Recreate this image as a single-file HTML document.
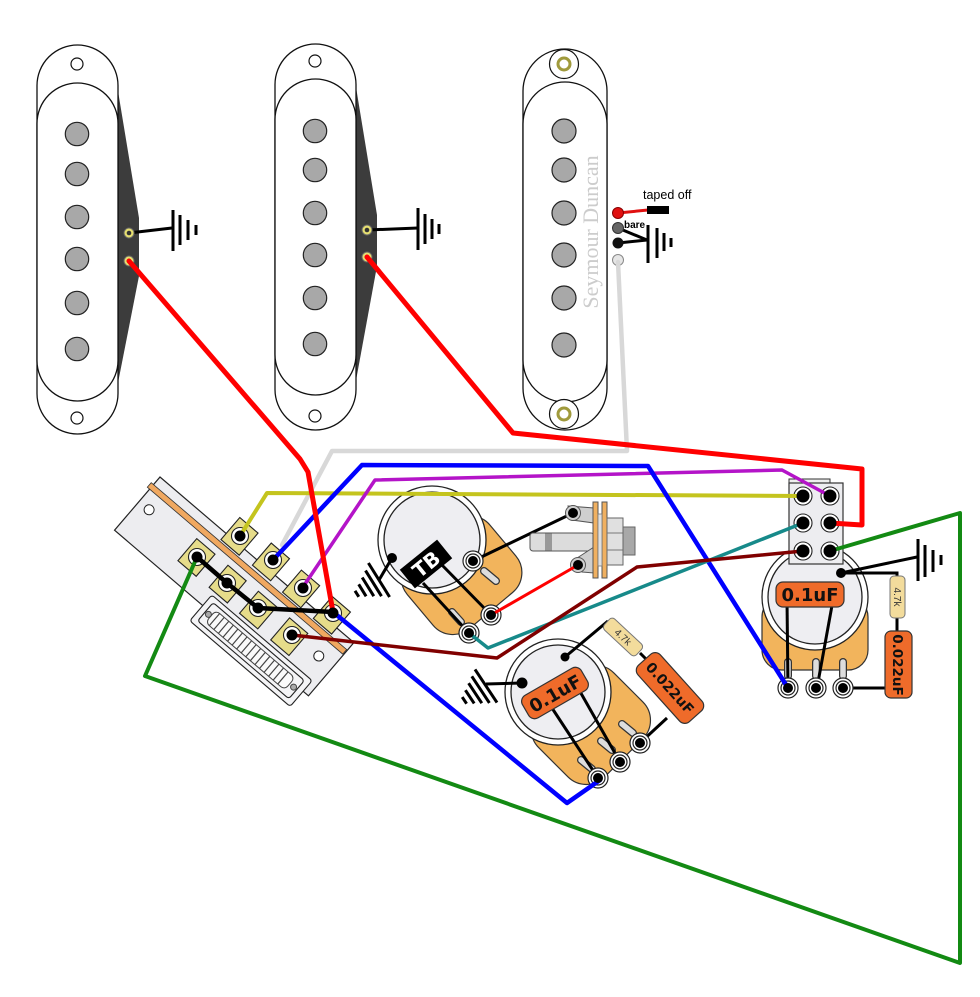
<!DOCTYPE html>
<html><head><meta charset="utf-8"><style>html,body{margin:0;padding:0;background:#fff;overflow:hidden}svg{display:block}</style></head><body>
<svg width="980" height="997" viewBox="0 0 980 997" xmlns="http://www.w3.org/2000/svg" font-family="'Liberation Sans', sans-serif">
<rect width="980" height="997" fill="#fff"/>

<!-- Pickup 1 -->
<polygon points="117,85 139,218 139,276 117,388" fill="#3c3c3c"/>
<rect x="37" y="45" width="81" height="389" rx="40.5" fill="#fff" stroke="#111" stroke-width="1.3"/>
<rect x="37" y="83" width="81" height="318" rx="40.5" fill="#fff" stroke="#111" stroke-width="1.3"/>
<circle cx="77" cy="64" r="6" fill="#fff" stroke="#111" stroke-width="1.2"/>
<circle cx="77" cy="418" r="6" fill="#fff" stroke="#111" stroke-width="1.2"/>
<g fill="#a8a8a8" stroke="#222" stroke-width="1.2">
<circle cx="77" cy="134" r="11.7"/><circle cx="77" cy="174" r="11.7"/><circle cx="77" cy="217" r="11.7"/>
<circle cx="77" cy="259" r="11.7"/><circle cx="77" cy="303" r="11.7"/><circle cx="77" cy="349" r="11.7"/>
</g>

<!-- Pickup 2 -->
<polygon points="355,81 377,215 377,266 355,386" fill="#3c3c3c"/>
<rect x="275" y="44" width="81" height="386" rx="40.5" fill="#fff" stroke="#111" stroke-width="1.3"/>
<rect x="275" y="79" width="81" height="316" rx="40.5" fill="#fff" stroke="#111" stroke-width="1.3"/>
<circle cx="315" cy="61" r="6" fill="#fff" stroke="#111" stroke-width="1.2"/>
<circle cx="315" cy="416" r="6" fill="#fff" stroke="#111" stroke-width="1.2"/>
<g fill="#a8a8a8" stroke="#222" stroke-width="1.2">
<circle cx="315" cy="131" r="11.7"/><circle cx="315" cy="170" r="11.7"/><circle cx="315" cy="213" r="11.7"/>
<circle cx="315" cy="255" r="11.7"/><circle cx="315" cy="298" r="11.7"/><circle cx="315" cy="344" r="11.7"/>
</g>

<!-- Pickup 3 -->
<rect x="523" y="49" width="84" height="381" rx="42" fill="#fff" stroke="#111" stroke-width="1.3"/>
<rect x="523" y="82" width="84" height="320" rx="42" fill="#fff" stroke="#111" stroke-width="1.3"/>
<circle cx="564" cy="64" r="14.5" fill="#fff" stroke="#111" stroke-width="1.2"/>
<circle cx="564" cy="64" r="6" fill="none" stroke="#a09a3c" stroke-width="3"/>
<circle cx="564" cy="414" r="14.5" fill="#fff" stroke="#111" stroke-width="1.2"/>
<circle cx="564" cy="414" r="6" fill="none" stroke="#a09a3c" stroke-width="3"/>
<g fill="#a8a8a8" stroke="#222" stroke-width="1.2">
<circle cx="564" cy="131" r="12"/><circle cx="564" cy="170" r="12"/><circle cx="564" cy="213" r="12"/>
<circle cx="564" cy="255" r="12"/><circle cx="564" cy="298" r="12"/><circle cx="564" cy="345" r="12"/>
</g>
<text transform="translate(598,232) rotate(-90)" text-anchor="middle" font-family="'Liberation Serif', serif" font-size="22" fill="#cccccc">Seymour Duncan</text>

<!-- Pickup grounds -->
<g stroke="#000" stroke-width="3" fill="none">
<line x1="129" y1="233" x2="172" y2="228"/>
<line x1="173" y1="210" x2="173" y2="251"/><line x1="180" y1="215" x2="180" y2="245"/>
<line x1="188" y1="220" x2="188" y2="240"/><line x1="196" y1="225" x2="196" y2="235"/>
<line x1="367" y1="230" x2="418" y2="228"/>
<line x1="418" y1="208" x2="418" y2="250"/><line x1="425" y1="214" x2="425" y2="244"/>
<line x1="432" y1="219" x2="432" y2="239"/><line x1="439" y1="224" x2="439" y2="234"/>
<line x1="618" y1="228" x2="647" y2="240"/><line x1="618" y1="243" x2="647" y2="240"/>
<line x1="648" y1="225" x2="648" y2="263"/><line x1="657" y1="228" x2="657" y2="258"/>
<line x1="664" y1="233" x2="664" y2="251"/><line x1="671" y1="238" x2="671" y2="247"/>
</g>
<line x1="618" y1="213" x2="648" y2="210" stroke="#e01010" stroke-width="3"/>
<rect x="647" y="206" width="22" height="8" fill="#000"/>
<text x="643" y="199" font-size="12.5" fill="#000">taped off</text>
<text x="624" y="228" font-size="10" font-weight="bold" fill="#000">bare</text>

<!-- pickup terminals -->
<g fill="#e6df70" stroke="#666" stroke-width="1">
<circle cx="129" cy="233" r="5"/><circle cx="129" cy="261" r="5"/>
<circle cx="367" cy="230" r="5"/><circle cx="367" cy="257" r="5"/>
</g>
<g fill="#333"><circle cx="129" cy="233" r="2.3"/><circle cx="129" cy="261" r="2.3"/><circle cx="367" cy="230" r="2.3"/><circle cx="367" cy="257" r="2.3"/></g>
<circle cx="618" cy="213" r="5.5" fill="#e01010" stroke="#800" stroke-width="1"/>
<circle cx="618" cy="228" r="5.5" fill="#666" stroke="#333" stroke-width="1"/>
<circle cx="618" cy="243" r="5.5" fill="#111"/>
<circle cx="618" cy="260" r="5.5" fill="#e6e6e6" stroke="#888" stroke-width="1"/>

<!-- 5-way switch -->
<g transform="translate(160,477) rotate(40.5)">
<rect x="0" y="0" width="255" height="70" fill="#ededf0" stroke="#222" stroke-width="1.2"/>
<rect x="116" y="56" width="132" height="34" rx="3" fill="#f4f4f6" stroke="#222" stroke-width="1.1"/>
<rect x="122" y="61" width="120" height="24" rx="3" fill="#f4f4f6" stroke="#222" stroke-width="1.1"/>
<rect x="129" y="65" width="104" height="16" rx="5" fill="#fafafa" stroke="#444" stroke-width="1"/>
<g stroke="#444" stroke-width="1.2">
<line x1="134" y1="65" x2="134" y2="81"/><line x1="140" y1="65" x2="140" y2="81"/><line x1="146" y1="65" x2="146" y2="81"/>
<line x1="152" y1="65" x2="152" y2="81"/><line x1="158" y1="65" x2="158" y2="81"/><line x1="164" y1="65" x2="164" y2="81"/>
<line x1="170" y1="65" x2="170" y2="81"/><line x1="176" y1="65" x2="176" y2="81"/><line x1="182" y1="65" x2="182" y2="81"/>
<line x1="188" y1="65" x2="188" y2="81"/><line x1="194" y1="65" x2="194" y2="81"/><line x1="200" y1="65" x2="200" y2="81"/>
<line x1="206" y1="65" x2="206" y2="81"/><line x1="212" y1="65" x2="212" y2="81"/><line x1="218" y1="65" x2="218" y2="81"/>
<line x1="224" y1="65" x2="224" y2="81"/>
</g>
<circle cx="126" cy="73" r="3" fill="#aaa" stroke="#444"/>
<circle cx="238" cy="73" r="3" fill="#aaa" stroke="#444"/>
<g fill="#e6dc8a" stroke="#222" stroke-width="1.1">
<rect x="87" y="-21" width="24" height="29"/><rect x="127.5" y="-22" width="24" height="29"/>
<rect x="168" y="-21" width="24" height="29"/><rect x="208.5" y="-21" width="24" height="29"/>
<rect x="68" y="23" width="24" height="29"/><rect x="109" y="23" width="24" height="29"/>
<rect x="149" y="23" width="24" height="29"/><rect x="190" y="23" width="24" height="29"/>
</g>
<rect x="-3" y="10" width="257" height="6" fill="#f0a860" stroke="#333" stroke-width="0.8"/>
<circle cx="13" cy="32" r="5" fill="#fff" stroke="#222"/>
<circle cx="237" cy="33" r="5" fill="#fff" stroke="#222"/>
</g>
<g fill="#fff" stroke="#222" stroke-width="1.1">
<circle cx="240" cy="536" r="8.5"/><circle cx="273" cy="560" r="8.5"/><circle cx="303" cy="588" r="8.5"/><circle cx="333" cy="613" r="8.5"/>
<circle cx="197" cy="557" r="8.5"/><circle cx="227" cy="583" r="8.5"/><circle cx="258" cy="608" r="8.5"/><circle cx="292" cy="635" r="8.5"/>
</g>

<!-- TB pot -->
<g transform="translate(432,540) rotate(-40)"><rect x="-54" y="0" width="108" height="92" rx="26" fill="#f2b45c" stroke="#333" stroke-width="1.2"/></g>
<circle cx="432" cy="540" r="54" fill="#fff" stroke="#222" stroke-width="1.3"/>
<circle cx="432" cy="540" r="48" fill="#eeeef2" stroke="#222" stroke-width="1.3"/>
<g stroke-linecap="round">
<line x1="484" y1="571" x2="496" y2="581" stroke="#333" stroke-width="8"/><line x1="484" y1="571" x2="496" y2="581" stroke="#ddd" stroke-width="5.5"/>
<line x1="452" y1="612" x2="461" y2="622" stroke="#333" stroke-width="8"/><line x1="452" y1="612" x2="461" y2="622" stroke="#ddd" stroke-width="5.5"/>
</g>
<g stroke="#000" stroke-width="3">
<line x1="440" y1="563" x2="491" y2="615"/><line x1="423" y1="583" x2="469" y2="633"/>
<line x1="473" y1="561" x2="573" y2="513"/>
<line x1="392" y1="558" x2="379" y2="580"/>
<line x1="368.4" y1="563" x2="389.6" y2="597"/><line x1="365.5" y1="570.6" x2="381.5" y2="596.2"/>
<line x1="362.2" y1="577.5" x2="373.8" y2="596.2"/><line x1="358.7" y1="584.3" x2="366.1" y2="596.3"/>
<line x1="355" y1="590.8" x2="358.8" y2="596.8"/>
</g>
<g transform="translate(426,564) rotate(-39)">
<rect x="-24" y="-12" width="48" height="24" fill="#000"/>
<text x="0" y="7.5" text-anchor="middle" font-family="'DejaVu Sans', sans-serif" font-weight="bold" font-size="20" fill="#fff">TB</text>
</g>
<circle cx="392" cy="558" r="5" fill="#000"/>

<!-- Jack -->
<rect x="530" y="533" width="64" height="18" rx="3" fill="#dcdcdc" stroke="#555" stroke-width="1"/>
<rect x="545" y="533.5" width="7" height="17" fill="#999"/>
<path d="M568,506 L594,508 L594,523 L572,520 Z" fill="#cfcfcf" stroke="#555" stroke-width="1"/>
<circle cx="573" cy="513" r="7.5" fill="#cfcfcf" stroke="#555" stroke-width="1"/>
<path d="M574,560 L594,547 L594,573 L582,572 Z" fill="#cfcfcf" stroke="#555" stroke-width="1"/>
<circle cx="578" cy="565" r="7.5" fill="#cfcfcf" stroke="#555" stroke-width="1"/>
<rect x="593" y="502" width="5" height="76" fill="#f0b060" stroke="#555" stroke-width="1"/>
<rect x="602" y="502" width="5" height="76" fill="#f0b060" stroke="#555" stroke-width="1"/>
<rect x="598" y="514" width="4" height="52" fill="#e0e0e0" stroke="#777" stroke-width="0.8"/>
<rect x="607" y="518" width="16" height="47" fill="#e0e0e0" stroke="#666" stroke-width="1"/>
<line x1="607" y1="533" x2="623" y2="533" stroke="#777"/><line x1="607" y1="550" x2="623" y2="550" stroke="#777"/>
<rect x="623" y="527" width="12" height="28" fill="#a8a8a8" stroke="#666" stroke-width="1"/>

<!-- Bottom tone pot -->
<g transform="translate(558,692) rotate(-45)"><rect x="-53" y="0" width="106" height="93" rx="26" fill="#f2b45c" stroke="#333" stroke-width="1.2"/></g>
<circle cx="558" cy="692" r="53" fill="#fff" stroke="#222" stroke-width="1.3"/>
<circle cx="558" cy="692" r="47" fill="#eeeef2" stroke="#222" stroke-width="1.3"/>
<g stroke-linecap="round">
<line x1="601" y1="741" x2="612" y2="750" stroke="#333" stroke-width="8"/><line x1="601" y1="741" x2="612" y2="750" stroke="#ddd" stroke-width="5.5"/>
<line x1="622" y1="724" x2="633" y2="733" stroke="#333" stroke-width="8"/><line x1="622" y1="724" x2="633" y2="733" stroke="#ddd" stroke-width="5.5"/>
<line x1="581" y1="760" x2="592" y2="769" stroke="#333" stroke-width="8"/><line x1="581" y1="760" x2="592" y2="769" stroke="#ddd" stroke-width="5.5"/>
</g>
<g stroke="#000" stroke-width="3">
<line x1="550" y1="705" x2="598" y2="778"/><line x1="578" y1="688" x2="620" y2="762"/>
<line x1="565" y1="657" x2="608" y2="621"/>
<line x1="640" y1="653" x2="650" y2="663"/>
<line x1="667" y1="718" x2="640" y2="743"/>
<line x1="522" y1="683" x2="486" y2="684"/>
<line x1="475" y1="669.4" x2="497" y2="702.6"/><line x1="471.8" y1="676.3" x2="489.4" y2="702.9"/>
<line x1="468.6" y1="683.2" x2="481.8" y2="703.2"/><line x1="465.4" y1="690.2" x2="474.2" y2="703.4"/>
<line x1="462.2" y1="697.1" x2="466.6" y2="703.7"/>
</g>
<g transform="translate(555,693) rotate(-30)">
<rect x="-34" y="-13" width="68" height="26" rx="7" fill="#ef6b2a" stroke="#333" stroke-width="1.2"/>
<text x="0" y="7" text-anchor="middle" font-family="'DejaVu Sans', sans-serif" font-weight="bold" font-size="18" fill="#111">0.1uF</text>
</g>
<g transform="translate(623,637) rotate(43)">
<rect x="-22" y="-7.5" width="44" height="15" rx="4" fill="#f3dc9c" stroke="#777" stroke-width="1"/>
<text x="0" y="3.5" text-anchor="middle" font-size="10" fill="#333">4.7k</text>
</g>
<g transform="translate(670,688) rotate(48)">
<rect x="-38" y="-15" width="76" height="30" rx="7" fill="#ef6b2a" stroke="#333" stroke-width="1.2"/>
<text x="0" y="5" text-anchor="middle" font-family="'DejaVu Sans', sans-serif" font-weight="bold" font-size="14" fill="#111">0.022uF</text>
</g>
<circle cx="522" cy="683" r="5.5" fill="#000"/>
<circle cx="565" cy="657" r="4.5" fill="#000"/>

<!-- Right tone pot -->
<rect x="762" y="597" width="106" height="73" rx="20" fill="#f2b45c" stroke="#333" stroke-width="1.2"/>
<circle cx="815" cy="597" r="53" fill="#fff" stroke="#222" stroke-width="1.3"/>
<circle cx="815" cy="597" r="47" fill="#eeeef2" stroke="#222" stroke-width="1.3"/>
<g stroke-linecap="round">
<line x1="788" y1="662" x2="788" y2="676" stroke="#333" stroke-width="8"/><line x1="788" y1="662" x2="788" y2="676" stroke="#ddd" stroke-width="5.5"/>
<line x1="816" y1="662" x2="816" y2="676" stroke="#333" stroke-width="8"/><line x1="816" y1="662" x2="816" y2="676" stroke="#ddd" stroke-width="5.5"/>
<line x1="843" y1="662" x2="843" y2="676" stroke="#333" stroke-width="8"/><line x1="843" y1="662" x2="843" y2="676" stroke="#ddd" stroke-width="5.5"/>
</g>
<g stroke="#000" stroke-width="3" fill="none">
<line x1="787" y1="600" x2="788" y2="688"/><line x1="833" y1="600" x2="817" y2="688"/>
<line x1="841" y1="573" x2="917" y2="557"/>
<polyline points="841,573 897,573 897,580"/>
<line x1="897" y1="615" x2="897" y2="633"/>
<line x1="886" y1="688" x2="843" y2="688"/>
<line x1="918" y1="539" x2="918" y2="581"/><line x1="925" y1="545" x2="925" y2="577"/>
<line x1="933" y1="550" x2="933" y2="572"/><line x1="941" y1="555" x2="941" y2="565"/>
</g>
<rect x="776" y="582" width="68" height="25" rx="7" fill="#ef6b2a" stroke="#333" stroke-width="1.2"/>
<text x="810" y="601" text-anchor="middle" font-family="'DejaVu Sans', sans-serif" font-weight="bold" font-size="18" fill="#111">0.1uF</text>
<rect x="890" y="576" width="15" height="42" rx="4" fill="#f3dc9c" stroke="#777" stroke-width="1"/>
<text transform="translate(894,597) rotate(90)" text-anchor="middle" font-size="10" fill="#333">4.7k</text>
<rect x="885" y="631" width="27" height="67" rx="6" fill="#ef6b2a" stroke="#333" stroke-width="1.2"/>
<text transform="translate(893,665) rotate(90)" text-anchor="middle" font-family="'DejaVu Sans', sans-serif" font-weight="bold" font-size="13.5" fill="#111">0.022uF</text>
<circle cx="841" cy="573" r="5" fill="#000"/>

<!-- Switch box -->
<rect x="789" y="479" width="41" height="5" fill="#eee" stroke="#333" stroke-width="1"/>
<rect x="789" y="483" width="54" height="81" fill="#ededf0" stroke="#333" stroke-width="1.2"/>
<g fill="#fff" stroke="#222" stroke-width="1.1">
<circle cx="803" cy="496" r="9"/><circle cx="830" cy="496" r="9"/>
<circle cx="803" cy="523" r="9"/><circle cx="830" cy="523" r="9"/>
<circle cx="803" cy="551" r="9"/><circle cx="830" cy="551" r="9"/>
</g>

<!-- pot terminal rings -->
<g fill="#fff" stroke="#222" stroke-width="1.2">
<circle cx="473" cy="561" r="10"/><circle cx="491" cy="615" r="10"/><circle cx="469" cy="633" r="10"/>
<circle cx="598" cy="778" r="10"/><circle cx="620" cy="762" r="10"/><circle cx="640" cy="743" r="10"/>
<circle cx="788" cy="688" r="10"/><circle cx="816" cy="688" r="10"/><circle cx="843" cy="688" r="10"/>
</g>
<g fill="none" stroke="#222" stroke-width="1.2">
<circle cx="473" cy="561" r="7"/><circle cx="491" cy="615" r="7"/><circle cx="469" cy="633" r="7"/>
<circle cx="598" cy="778" r="7"/><circle cx="620" cy="762" r="7"/><circle cx="640" cy="743" r="7"/>
<circle cx="788" cy="688" r="7"/><circle cx="816" cy="688" r="7"/><circle cx="843" cy="688" r="7"/>
</g>

<!-- Wires -->
<g fill="none" stroke-linejoin="round" stroke-linecap="round">
<polyline points="618,262 627,451 332,451 282,545" stroke="#d8d8d8" stroke-width="4.5"/>
<polyline points="197,557 145,676 960,963 960,513 830,551" stroke="#138a13" stroke-width="4"/>
<polyline points="240,536 267,493 803,496" stroke="#c4c41e" stroke-width="4"/>
<polyline points="303,587 375,480 782,470 830,496" stroke="#b414c8" stroke-width="3.5"/>
<polyline points="273,560 362,465 648,466 788,688" stroke="#0000ff" stroke-width="4.5"/>
<polyline points="333,612 567,803 600,780" stroke="#0000ff" stroke-width="4.5"/>
<polyline points="469,633 488,648 710,560 803,523" stroke="#178a8a" stroke-width="3.5"/>
<polyline points="292,635 497,658 637,567 803,551" stroke="#800000" stroke-width="3.5"/>
<polyline points="197,557 227,583 258,608 333,612" stroke="#000" stroke-width="4.5"/>
<polyline points="129,261 300,459 308,472 333,612" stroke="#ff0000" stroke-width="5"/>
<polyline points="367,257 513,433 862,469 862,525 830,523" stroke="#ff0000" stroke-width="5"/>
<line x1="578" y1="565" x2="491" y2="615" stroke="#ff0000" stroke-width="3"/>
</g>

<!-- Dots -->
<g fill="#000">
<circle cx="240" cy="536" r="5.5"/><circle cx="273" cy="560" r="5.5"/><circle cx="303" cy="588" r="5.5"/><circle cx="333" cy="613" r="5.5"/>
<circle cx="197" cy="557" r="5.5"/><circle cx="227" cy="583" r="5.5"/><circle cx="258" cy="608" r="5.5"/><circle cx="292" cy="635" r="5.5"/>
<circle cx="803" cy="496" r="6.5"/><circle cx="830" cy="496" r="6.5"/>
<circle cx="803" cy="523" r="6.5"/><circle cx="830" cy="523" r="6.5"/>
<circle cx="803" cy="551" r="6.5"/><circle cx="830" cy="551" r="6.5"/>
<circle cx="473" cy="561" r="5"/><circle cx="491" cy="615" r="5"/><circle cx="469" cy="633" r="5"/>
<circle cx="598" cy="778" r="5"/><circle cx="620" cy="762" r="5"/><circle cx="640" cy="743" r="5"/>
<circle cx="788" cy="688" r="5"/><circle cx="816" cy="688" r="5"/><circle cx="843" cy="688" r="5"/>
<circle cx="573" cy="513" r="5"/><circle cx="578" cy="565" r="5"/>
</g>
</svg>
</body></html>
